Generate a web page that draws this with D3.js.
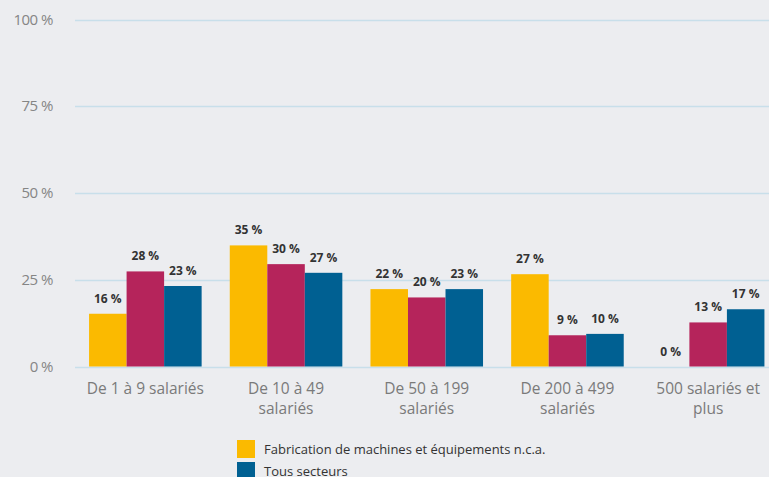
<!DOCTYPE html>
<html>
<head>
<meta charset="utf-8">
<script src="https://cdn.jsdelivr.net/npm/d3@7"></script>
<style>
  body { margin: 0; background: #ecedf0; overflow: hidden; }
  svg { display: block; font-family: "Open Sans", sans-serif; }
</style>
</head>
<body>
<div id="chart"></div>
<script>
// categories and series
const categories = [
    ["De 1 à 9 salariés"],
    ["De 10 à 49", "salariés"],
    ["De 50 à 199", "salariés"],
    ["De 200 à 499", "salariés"],
    ["500 salariés et", "plus"]
];
const seriesNames = ["Fabrication de machines et équipements n.c.a.", "Industrie", "Tous secteurs"];
const fabrication = [15.2, 34.9, 22.3, 26.6, 0];
const industrie = [27.4, 29.5, 19.9, 9.0, 12.7];
const tous = [23.2, 27.0, 22.3, 9.4, 16.5];
const fabricationLabels = ["16 %", "35 %", "22 %", "27 %", "0 %"];
const industrieLabels = ["28 %", "30 %", "20 %", "9 %", "13 %"];
const tousLabels = ["23 %", "27 %", "23 %", "10 %", "17 %"];
const yTicks = [0, 25, 50, 75, 100];
const colors = ["#fbba00", "#b5245b", "#006092"];
const legendItems = [0, 2];

const width = 769, height = 477;
const margin = {top: 19.5, left: 75, bottom: 110.5};

const svg = d3.select("#chart").append("svg")
    .attr("width", width)
    .attr("height", height);

const x = d3.scaleBand()
    .domain(d3.range(categories.length))
    .range([margin.left, margin.left + 703.5])
    .paddingInner(0.2)
    .paddingOuter(0.1);

const xSub = d3.scaleBand()
    .domain(d3.range(seriesNames.length))
    .range([0, x.bandwidth()]);

const y = d3.scaleLinear()
    .domain([0, 100])
    .range([height - margin.bottom, margin.top]);

// gridlines
svg.append("g")
    .selectAll("line")
    .data(yTicks)
    .join("line")
    .attr("x1", margin.left)
    .attr("x2", width)
    .attr("y1", d => Math.round(y(d)) + 0.5)
    .attr("y2", d => Math.round(y(d)) + 0.5)
    .attr("stroke", "#c8dfea")
    .attr("stroke-width", 1.5);

svg.append("g")
    .selectAll("text")
    .data(yTicks)
    .join("text")
    .attr("x", 53)
    .attr("y", d => y(d) + 5)
    .attr("text-anchor", "end")
    .attr("font-size", 15)
    .attr("letter-spacing", -0.5)
    .attr("fill", "#858585")
    .text(d => d + " %");

const series = [
    {values: fabrication, labels: fabricationLabels},
    {values: industrie, labels: industrieLabels},
    {values: tous, labels: tousLabels}
];

series.forEach(function (s, i) {
    const g = svg.append("g");
    g.selectAll("rect")
        .data(s.values)
        .join("rect")
        .attr("x", (d, j) => x(j) + xSub(i))
        .attr("width", xSub.bandwidth())
        .attr("y", d => y(d))
        .attr("height", d => y(0) - y(d))
        .attr("fill", colors[i]);

    g.selectAll("text")
        .data(s.values)
        .join("text")
        .attr("x", (d, j) => x(j) + xSub(i) + xSub.bandwidth() / 2)
        .attr("y", d => y(d) - 11)
        .attr("text-anchor", "middle")
        .attr("font-size", 12)
        .attr("font-weight", "bold")
        .attr("fill", "#333")
        .text((d, j) => s.labels[j]);
});

// category labels
svg.append("g")
    .selectAll("text")
    .data(categories)
    .join("text")
    .attr("x", (d, j) => x(j) + x.bandwidth() / 2)
    .attr("y", 394)
    .attr("text-anchor", "middle")
    .attr("font-size", 15.5)
    .attr("fill", "#7a7a7a")
    .each(function (d) {
        d3.select(this).selectAll("tspan")
            .data(d)
            .join("tspan")
            .attr("x", d3.select(this).attr("x"))
            .attr("dy", (t, k) => k === 0 ? 0 : 20)
            .text(t => t);
    });

// legend
const legend = svg.append("g")
    .selectAll("g")
    .data(legendItems)
    .join("g")
    .attr("transform", (d, k) => `translate(237, ${440 + k * 22})`);

legend.append("rect")
    .attr("width", 18)
    .attr("height", 18)
    .attr("fill", d => colors[d]);

legend.append("text")
    .attr("x", 27)
    .attr("y", 14)
    .attr("font-size", 13)
    .attr("fill", "#333")
    .text(d => seriesNames[d]);
</script>
</body>
</html>
